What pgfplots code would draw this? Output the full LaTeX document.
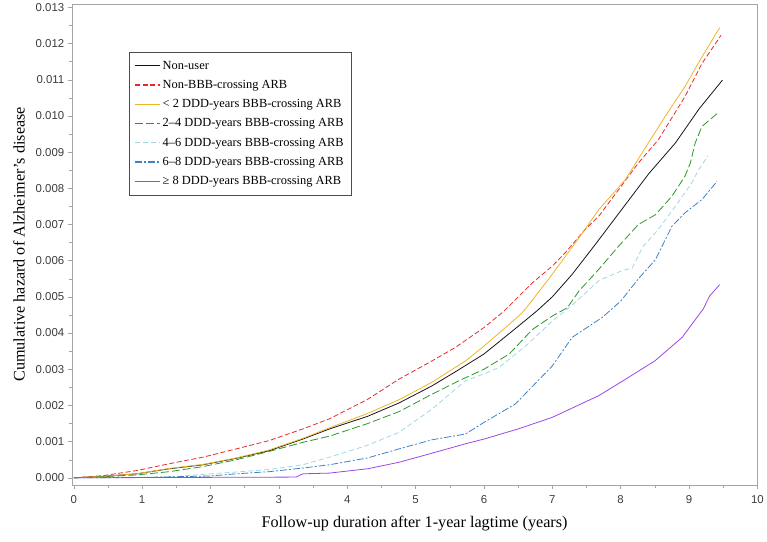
\documentclass[border=0pt]{standalone}
\usepackage{fontspec}
\setmainfont{Liberation Serif}
\newfontfamily\tickfont{Liberation Sans}
\usepackage{pgfplots}
\pgfplotsset{compat=1.18}
\usepackage{pgfplotstable}

\definecolor{axgray}{RGB}{165,165,165}
\definecolor{tickgray}{RGB}{60,60,60}
\definecolor{cblack}{RGB}{20,20,20}
\definecolor{cred}{RGB}{235,40,40}
\definecolor{cgold}{RGB}{238,180,40}
\definecolor{cgreen}{RGB}{40,150,40}
\definecolor{clblue}{RGB}{160,215,228}
\definecolor{cblue}{RGB}{60,130,195}
\definecolor{cpurple}{RGB}{155,70,235}

% values in units of 0.001
\pgfplotstableread{
x y
0 0
0.43 0.04
0.92 0.11
1.40 0.25
1.89 0.36
2.38 0.54
2.86 0.75
3.35 1.07
3.74 1.35
4.30 1.70
4.76 2.07
5.24 2.54
5.60 2.95
6.00 3.42
6.51 4.20
6.78 4.62
7.00 5.00
7.29 5.62
7.63 6.45
8.07 7.55
8.41 8.40
8.80 9.25
9.15 10.20
9.49 10.99
}\nonuser

\pgfplotstableread{
x y
0 0
0.43 0.06
0.92 0.20
1.40 0.39
1.89 0.57
2.38 0.80
2.86 1.03
3.35 1.35
3.74 1.63
4.30 2.17
4.76 2.73
5.24 3.23
5.58 3.60
6.00 4.15
6.29 4.60
6.71 5.39
7.00 5.85
7.19 6.22
7.48 6.86
7.68 7.23
7.97 7.96
8.26 8.70
8.55 9.34
8.94 10.53
9.19 11.45
9.47 12.23
}\nonbbb

\pgfplotstableread{
x y
0 0
0.43 0.04
0.92 0.11
1.40 0.26
1.89 0.37
2.38 0.55
2.86 0.77
3.35 1.09
3.74 1.38
4.30 1.78
4.76 2.16
5.24 2.64
5.73 3.23
6.00 3.64
6.51 4.47
6.61 4.67
6.95 5.50
7.34 6.50
7.68 7.41
8.07 8.24
8.31 8.97
8.65 9.98
8.94 10.81
9.19 11.63
9.45 12.44
}\ltwo

\pgfplotstableread{
x y
0 0
0.43 0.03
0.92 0.08
1.40 0.17
1.89 0.31
2.38 0.50
2.86 0.73
3.35 0.98
3.74 1.15
4.30 1.50
4.76 1.83
5.24 2.31
5.60 2.65
6.00 3.00
6.37 3.42
6.71 4.10
7.00 4.47
7.22 4.70
7.39 5.16
7.68 5.76
7.97 6.40
8.26 7.00
8.51 7.27
8.75 7.78
8.94 8.33
9.02 8.70
9.09 9.25
9.19 9.71
9.36 9.98
9.43 10.10
}\twofour

\pgfplotstableread{
x y
0 0
1.40 0.02
1.99 0.11
2.38 0.16
2.86 0.23
3.35 0.36
3.74 0.57
4.30 0.90
4.76 1.26
5.24 1.90
5.73 2.68
6.00 2.87
6.22 3.05
6.61 3.64
7.00 4.33
7.34 4.85
7.68 5.45
8.00 5.71
8.17 5.80
8.33 6.40
8.55 6.86
8.80 7.50
9.04 8.15
9.14 8.51
9.28 8.90
}\foursix

\pgfplotstableread{
x y
0 0
1.00 0.01
1.99 0.05
2.38 0.11
2.86 0.17
3.35 0.27
3.74 0.36
4.30 0.55
4.76 0.80
5.24 1.05
5.73 1.21
6.00 1.53
6.46 2.04
7.00 3.09
7.29 3.88
7.73 4.43
8.00 4.88
8.26 5.50
8.51 6.03
8.75 6.95
8.94 7.32
9.19 7.69
9.41 8.19
}\sixeight

\pgfplotstableread{
x y
0 0
3.25 0.02
3.35 0.11
3.74 0.13
4.30 0.25
4.76 0.43
5.24 0.68
5.73 0.94
6.00 1.07
6.50 1.35
7.00 1.67
7.68 2.27
8.00 2.64
8.50 3.23
8.90 3.88
9.21 4.67
9.30 5.02
9.45 5.34
}\geeight

\begin{document}
\begin{tikzpicture}
\begin{axis}[
  name=ax,
  scale only axis,
  width=688bp, height=483bp,
  xmin=-0.03, xmax=10,
  ymin=-0.2, ymax=13.1,
  xtick={0,1,...,10},
  ytick={0,1,...,13},
  yticklabels={0.000,0.001,0.002,0.003,0.004,0.005,0.006,0.007,0.008,0.009,0.010,0.011,0.012,0.013},
  minor x tick num=1,
  minor y tick num=1,
  tick align=outside,
  tick pos=left,
  major tick length=4bp,
  minor tick length=3bp,
  axis line style={axgray},
  every tick/.style={axgray},
  /pgf/number format/assume math mode=true,
  ticklabel style={font=\tickfont\fontsize{11.5}{13}\selectfont, text=tickgray},
  xticklabel style={yshift=-3bp},
  xlabel={Follow-up duration after 1-year lagtime (years)},
  ylabel={Cumulative hazard of Alzheimer’s disease},
  label style={font=\fontsize{16.3}{18}\selectfont},
  xlabel style={yshift=-6bp},
  ylabel style={yshift=4bp},
  legend cell align=left,
  legend style={at={(0.083,0.90)}, anchor=north west, draw=black!70,
    font=\fontsize{12.5}{14}\selectfont, row sep=5.6pt,
    inner xsep=6pt, inner ysep=7pt},
  legend image code/.code={\draw[#1, line width=1.1pt] (0cm,0cm) -- (0.88cm,0cm);},
  every axis plot/.append style={line width=0.8pt, line join=round},
]
\addplot[cblack] table {\nonuser};
\addlegendentry{Non-user}
\addplot[cred, dash pattern=on 5pt off 2.5pt] table {\nonbbb};
\addlegendentry{Non-BBB-crossing ARB}
\addplot[cgold] table {\ltwo};
\addlegendentry{< 2 DDD-years BBB-crossing ARB}
\addplot[cgreen, dash pattern=on 8pt off 3pt] table {\twofour};
\addlegendentry{2–4 DDD-years BBB-crossing ARB}
\addplot[clblue, dash pattern=on 5pt off 3pt] table {\foursix};
\addlegendentry{4–6 DDD-years BBB-crossing ARB}
\addplot[cblue, dash pattern=on 7pt off 2pt on 2pt off 2pt] table {\sixeight};
\addlegendentry{6–8 DDD-years BBB-crossing ARB}
\addplot[cpurple] table {\geeight};
\addlegendentry{≥ 8 DDD-years BBB-crossing ARB}
\end{axis}
\path (ax.south west) ++(-72bp,-57bp) rectangle ([xshift=7bp,yshift=3bp]ax.north east);
\end{tikzpicture}
\end{document}
